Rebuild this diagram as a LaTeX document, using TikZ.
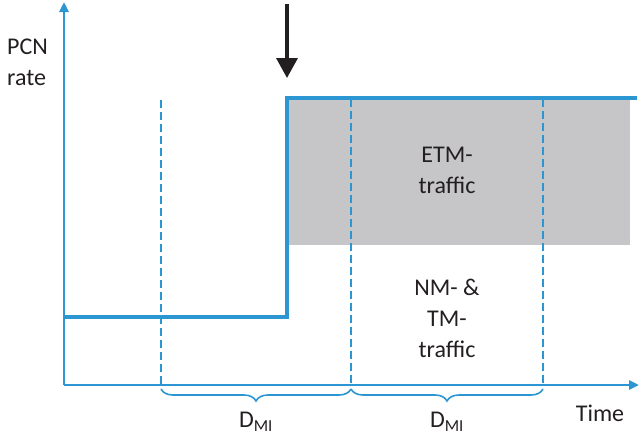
\documentclass[tikz,border=0pt]{standalone}
\usepackage{fontspec}
\setmainfont{Carlito}
\usetikzlibrary{arrows.meta,decorations.pathreplacing}
\definecolor{pblue}{RGB}{44,150,210}
\definecolor{pgray}{RGB}{198,198,200}
\definecolor{ptext}{RGB}{35,31,32}
\begin{document}
\begin{tikzpicture}[x=1pt,y=-1pt,
  axis/.style={pblue,line width=2.8pt,-{Triangle[length=10pt,width=9pt]}},
  rateline/.style={pblue,line width=3.2pt,line join=miter},
  dline/.style={pblue,line width=1.6pt,dash pattern=on 8pt off 4pt},
  lbl/.style={font=\fontsize{24}{31}\selectfont,text=ptext,align=center,inner sep=0pt},
  bracestyle/.style={pblue,line width=1.6pt,decorate,decoration={brace,mirror,amplitude=12pt}}]
\useasboundingbox (0,0) rectangle (639,439);
\fill[pgray] (287,98) rectangle (630,245);
\coordinate (o) at (64,385);
\coordinate (ytop) at (64,2);
\coordinate (xend) at (639,385);
\draw[axis] (o) -- (ytop);
\draw[axis] (o) -- (xend);
\coordinate (r0) at (64,317);
\coordinate (r1) at (287,317);
\coordinate (r2) at (287,98);
\coordinate (r3) at (637,98);
\draw[rateline] (r0) -- (r1) -- (r2) -- (r3);
\coordinate (d1t) at (161,100);
\coordinate (d1b) at (161,386);
\coordinate (d2t) at (351,99);
\coordinate (d2b) at (351,386);
\coordinate (d3t) at (543,99);
\coordinate (d3b) at (543,386);
\draw[dline] (d1t) -- (d1b);
\draw[dline] (d2t) -- (d2b);
\draw[dline] (d3t) -- (d3b);
\coordinate (at) at (287,4);
\coordinate (ab) at (287,78);
\draw[ptext,line width=3.5pt,-{Triangle[length=20pt,width=21pt]}] (at) -- (ab);
\draw[bracestyle] (161,389) -- (351,389);
\draw[bracestyle] (351,389) -- (543,389);
\node[lbl,anchor=west,align=left] (pcn) at (7,62) {PCN\\rate};
\node[lbl] (etm) at (447,170) {ETM-\\traffic};
\node[lbl] (nm) at (447,318) {NM- \&\\TM-\\traffic};
\node[lbl] (d1) at (256,422) {D\textsubscript{MI}};
\node[lbl] (d2) at (447,422) {D\textsubscript{MI}};
\node[lbl] (time) at (600,413) {Time};
\end{tikzpicture}
\end{document}
